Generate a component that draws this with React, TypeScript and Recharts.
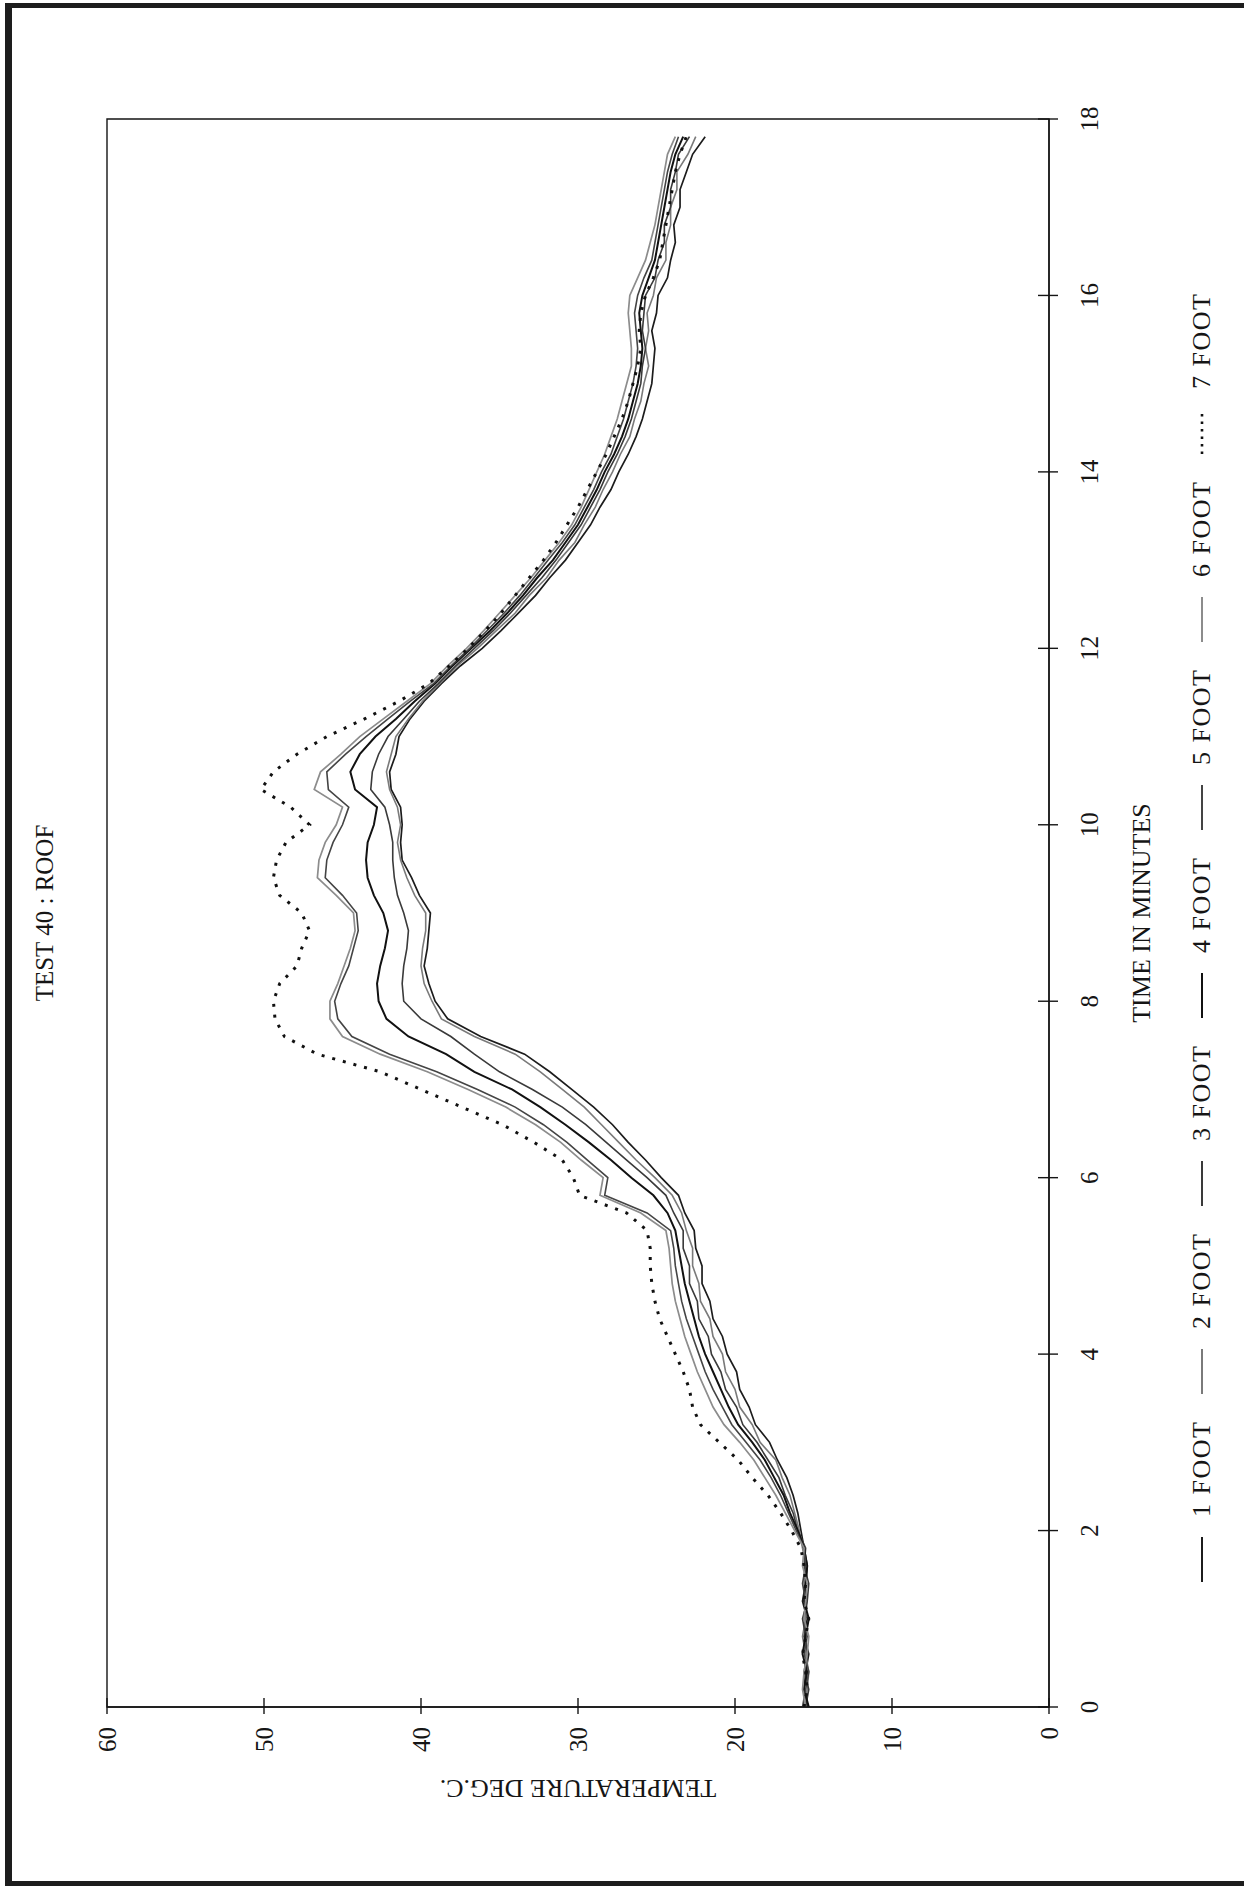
import { LineChart, Line, XAxis, YAxis, ReferenceArea, Legend } from "recharts";

// Readings taken off the scanned plot (minutes / deg C), every 0.2 min
const TIME = [
  0, 0.2, 0.4, 0.6, 0.8, 1, 1.2, 1.4, 1.6, 1.8,
  2, 2.2, 2.4, 2.6, 2.8, 3, 3.2, 3.4, 3.6, 3.8,
  4, 4.2, 4.4, 4.6, 4.8, 5, 5.2, 5.4, 5.6, 5.8,
  6, 6.2, 6.4, 6.6, 6.8, 7, 7.2, 7.4, 7.6, 7.8,
  8, 8.2, 8.4, 8.6, 8.8, 9, 9.2, 9.4, 9.6, 9.8,
  10, 10.2, 10.4, 10.6, 10.8, 11, 11.2, 11.4, 11.6, 11.8,
  12, 12.2, 12.4, 12.6, 12.8, 13, 13.2, 13.4, 13.6, 13.8,
  14, 14.2, 14.4, 14.6, 14.8, 15, 15.2, 15.4, 15.6, 15.8,
  16, 16.2, 16.4, 16.6, 16.8, 17, 17.2, 17.4, 17.6, 17.8,
];

const FOOT_1 = [
  15.4, 15.6, 15.5, 15.3, 15.6, 15.4, 15.7, 15.5, 15.4, 15.6,
  15.8, 16.0, 16.3, 16.7, 17.3, 17.8, 18.7, 19.1, 19.7, 19.9,
  20.5, 20.8, 21.4, 21.6, 22.1, 22.1, 22.5, 22.6, 23.2, 23.6,
  24.7, 25.7, 26.8, 27.8, 29.0, 30.4, 31.8, 33.4, 36.2, 38.3,
  39.1, 39.5, 39.8, 39.6, 39.5, 39.4, 40.1, 40.6, 41.2, 41.3,
  41.2, 41.3, 41.9, 42.0, 41.6, 41.4, 40.7, 39.8, 38.7, 37.5,
  36.1, 34.9, 33.8, 32.7, 31.8, 30.8, 30.0, 29.2, 28.6, 27.9,
  27.4, 26.8, 26.3, 25.9, 25.6, 25.3, 25.2, 25.1, 25.3, 25.0,
  24.9, 24.3, 24.1, 23.8, 23.9, 23.5, 23.5, 23.1, 22.7, 21.9,
];

const FOOT_2 = [
  15.6, 15.4, 15.3, 15.5, 15.7, 15.5, 15.4, 15.6, 15.5, 15.7,
  15.9, 16.2, 16.5, 17.0, 17.4, 18.4, 18.9, 19.7, 20.0, 20.6,
  20.8, 21.4, 21.6, 22.2, 22.3, 22.7, 22.7, 23.1, 23.4, 24.0,
  25.1, 26.3, 27.4, 28.5, 29.6, 31.0, 32.4, 34.0, 36.6, 38.7,
  39.3, 39.8, 40.0, 39.9, 39.7, 39.7, 40.4, 40.9, 41.3, 41.5,
  41.3, 41.5, 42.0, 42.2, 41.9, 41.6, 40.8, 39.9, 38.8, 37.7,
  36.4, 35.2, 34.0, 33.1, 32.0, 31.2, 30.2, 29.6, 28.9, 28.4,
  27.8, 27.3, 26.7, 26.4, 26.0, 25.8, 25.5, 25.7, 25.5, 25.6,
  25.2, 25.0, 24.4, 24.4, 24.1, 24.1, 23.7, 23.7, 23.0, 22.5,
];

const FOOT_3 = [
  15.5, 15.3, 15.6, 15.4, 15.5, 15.7, 15.4, 15.3, 15.6, 15.5,
  16.0, 16.3, 16.8, 17.2, 17.9, 18.6, 19.5, 19.9, 20.6, 20.9,
  21.5, 21.7, 22.3, 22.4, 22.9, 22.9, 23.3, 23.3, 23.9, 24.4,
  25.6, 26.9, 28.2, 29.5, 31.0, 32.9, 35.0, 36.6, 38.1, 40.0,
  41.1, 41.2, 41.1, 40.9, 40.8, 41.1, 41.5, 41.7, 41.8, 41.8,
  42.0, 42.3, 43.2, 43.1, 42.7, 42.1, 41.1, 40.1, 38.9, 37.8,
  36.6, 35.4, 34.3, 33.3, 32.3, 31.4, 30.6, 29.8, 29.2, 28.6,
  28.1, 27.5, 27.0, 26.6, 26.3, 26.0, 25.9, 25.7, 25.9, 25.8,
  25.7, 25.1, 24.9, 24.5, 24.5, 24.1, 24.1, 23.8, 23.6, 22.9,
];

const FOOT_4 = [
  15.3, 15.6, 15.4, 15.7, 15.5, 15.3, 15.6, 15.5, 15.4, 15.6,
  16.0, 16.5, 16.9, 17.5, 18.1, 18.9, 19.8, 20.4, 20.9, 21.4,
  21.9, 22.3, 22.6, 22.9, 23.2, 23.4, 23.6, 23.8, 24.3, 25.2,
  26.6, 27.9, 29.3, 30.8, 32.4, 34.2, 36.6, 38.4, 40.8, 42.2,
  42.7, 42.8, 42.6, 42.3, 42.1, 42.4, 43.0, 43.4, 43.5, 43.4,
  43.0, 42.8, 44.2, 44.5, 43.9, 42.9, 41.6, 40.4, 39.1, 38.0,
  36.8, 35.6, 34.5, 33.5, 32.6, 31.6, 30.8, 30.0, 29.4, 28.8,
  28.3, 27.7, 27.2, 26.8, 26.5, 26.2, 26.0, 25.9, 26.0, 26.1,
  25.9, 25.5, 25.1, 24.9, 24.7, 24.5, 24.3, 24.1, 23.8, 23.3,
];

const FOOT_5 = [
  15.7, 15.5, 15.3, 15.6, 15.4, 15.6, 15.5, 15.7, 15.5, 15.6,
  16.1, 16.6, 17.1, 17.7, 18.4, 19.3, 20.2, 20.8, 21.4, 21.9,
  22.3, 22.7, 23.1, 23.4, 23.6, 23.8, 23.9, 24.1, 25.6, 28.3,
  28.1, 29.4, 30.7, 32.2, 34.0, 36.4, 39.0, 42.0, 44.4, 45.3,
  45.5, 45.1, 44.6, 44.3, 44.0, 44.1, 45.0, 46.1, 46.0, 45.6,
  45.0, 44.6, 45.9, 46.0, 44.8, 43.5, 42.1, 40.7, 39.2, 38.1,
  36.9, 35.8, 34.7, 33.7, 32.8, 31.9, 31.0, 30.2, 29.6, 29.0,
  28.5, 27.9, 27.5, 27.1, 26.8, 26.5, 26.3, 26.2, 26.3, 26.4,
  26.2, 25.8, 25.3, 25.1, 24.9, 24.7, 24.5, 24.3, 24.0, 23.6,
];

const FOOT_6 = [
  15.5, 15.7, 15.6, 15.4, 15.3, 15.6, 15.5, 15.4, 15.7, 15.6,
  16.2, 16.8, 17.4, 18.1, 18.8, 19.7, 20.7, 21.4, 21.9, 22.4,
  22.8, 23.2, 23.5, 23.8, 24.0, 24.1, 24.2, 24.4, 26.0, 28.6,
  28.4, 29.8, 31.1, 32.7, 34.6, 37.0, 39.6, 42.6, 45.0, 45.8,
  45.8, 45.3, 44.9, 44.5, 44.2, 44.3, 45.4, 46.6, 46.5, 46.1,
  45.4, 45.0, 46.8, 46.4, 45.1, 43.9, 42.4, 40.9, 39.4, 38.3,
  37.1, 36.0, 35.0, 34.0, 33.0, 32.1, 31.2, 30.4, 29.8, 29.3,
  28.8, 28.3, 27.9, 27.5, 27.2, 26.9, 26.6, 26.6, 26.7, 26.8,
  26.7, 26.2, 25.7, 25.4, 25.1, 24.9, 24.7, 24.5, 24.3, 23.8,
];

const FOOT_7 = [
  15.6, 15.4, 15.5, 15.7, 15.5, 15.3, 15.6, 15.5, 15.6, 15.8,
  16.4, 17.1, 17.9, 18.9, 19.8, 21.0, 22.2, 22.7, 22.9, 23.3,
  23.8, 24.3, 24.8, 25.1, 25.3, 25.4, 25.4, 25.6, 26.9, 29.9,
  30.3, 31.0, 32.8, 34.8, 37.4, 40.0, 42.6, 46.6, 48.7, 49.3,
  49.4, 49.0, 47.9, 47.6, 47.1, 47.6, 49.0, 49.4, 49.2, 48.6,
  47.1, 48.3, 50.2, 49.4, 47.9, 46.0, 43.6, 41.4, 39.5, 38.2,
  37.0, 35.9, 34.9, 34.0, 33.1, 32.2, 31.4, 30.7, 30.0, 29.4,
  28.8, 28.2, 27.7, 27.2, 26.8, 26.5, 26.2, 26.0, 26.1, 26.0,
  25.7, 25.2, 24.8, 24.6, 24.4, 24.2, 24.0, 23.8, 23.5, 23.1,
];

const TIME_TICKS = [0, 2, 4, 6, 8, 10, 12, 14, 16, 18];
const TEMP_TICKS = [0, 10, 20, 30, 40, 50, 60];

const SERIES = [
  { key: "f1", name: "1 FOOT", values: FOOT_1, stroke: "#1c1c1c", width: 1.7, dash: undefined },
  { key: "f2", name: "2 FOOT", values: FOOT_2, stroke: "#7a7a7a", width: 1.6, dash: undefined },
  { key: "f3", name: "3 FOOT", values: FOOT_3, stroke: "#3a3a3a", width: 1.6, dash: undefined },
  { key: "f4", name: "4 FOOT", values: FOOT_4, stroke: "#111111", width: 2, dash: undefined },
  { key: "f5", name: "5 FOOT", values: FOOT_5, stroke: "#444444", width: 1.6, dash: undefined },
  { key: "f6", name: "6 FOOT", values: FOOT_6, stroke: "#8c8c8c", width: 1.7, dash: undefined },
  { key: "f7", name: "7 FOOT", values: FOOT_7, stroke: "#111111", width: 3, dash: "3 8" },
];

const FONT = '"Liberation Serif", "DejaVu Serif", serif';
const INK = "#151515";

const data = TIME.map((t, i) => {
  const row: Record<string, number> = { t };
  SERIES.forEach((s) => {
    row[s.key] = s.values[i];
  });
  return row;
});

// Excel style "cross" tick marks + label
function TimeTick(props: any) {
  const { x, y, payload } = props;
  return (
    <g>
      <line x1={x} x2={x} y1={y - 11} y2={y + 9} stroke={INK} strokeWidth={1.4} />
      <text x={x} y={y + 49} textAnchor="middle" fontSize={25} fontFamily={FONT} fill={INK}>
        {payload.value}
      </text>
    </g>
  );
}

function TempTick(props: any) {
  const { x, y, payload } = props;
  return (
    <g>
      <line x1={x - 7} x2={x + 9} y1={y} y2={y} stroke={INK} strokeWidth={1.4} />
      <text x={x - 20} y={y} dy="0.35em" textAnchor="end" fontSize={25} fontFamily={FONT} fill={INK}>
        {payload.value}
      </text>
    </g>
  );
}

function LegendRow() {
  return (
    <div
      style={{
        display: "flex",
        alignItems: "center",
        height: 34,
        paddingLeft: 306,
        fontFamily: FONT,
        fontSize: 26,
        color: INK,
      }}
    >
      {SERIES.map((s) => (
        <div key={s.key} style={{ width: 188, display: "flex", alignItems: "center", flex: "none" }}>
          <svg width={45} height={10} style={{ marginRight: 20, flex: "none" }}>
            <line
              x1={0}
              x2={45}
              y1={5}
              y2={5}
              stroke={s.stroke}
              strokeWidth={s.dash ? 2.6 : 2}
              strokeDasharray={s.dash ? "2.5 5" : undefined}
            />
          </svg>
          <span style={{ letterSpacing: 1.5, whiteSpace: "nowrap" }}>{s.name}</span>
        </div>
      ))}
    </div>
  );
}

export default function App() {
  return (
    <div
      style={{
        position: "absolute",
        left: 0,
        top: 0,
        width: 1244,
        height: 1888,
        overflow: "hidden",
        background: "#fff",
      }}
    >
      {/* page frame of the scan */}
      <div
        style={{
          position: "absolute",
          left: 5,
          top: 3,
          width: 1239,
          height: 1883,
          boxSizing: "border-box",
          borderLeft: "7px solid #1d1d1d",
          borderTop: "5px solid #1d1d1d",
          borderBottom: "5px solid #1d1d1d",
        }}
      />
      {/* landscape chart turned a quarter turn counter-clockwise */}
      <div
        style={{
          position: "absolute",
          left: 0,
          top: 0,
          width: 1888,
          height: 1244,
          transformOrigin: "0 0",
          transform: "translateY(1888px) rotate(-90deg)",
        }}
      >
        <div
          style={{
            position: "absolute",
            left: 775,
            top: 31,
            width: 400,
            textAlign: "center",
            fontFamily: FONT,
            fontSize: 25,
            color: INK,
            zIndex: 2,
          }}
        >
          TEST 40 : ROOF
        </div>
        <LineChart
          width={1888}
          height={1244}
          data={data}
          margin={{ top: 107, right: 119, bottom: 11, left: 17 }}
          style={{ fontFamily: FONT }}
        >
          <XAxis
            dataKey="t"
            type="number"
            domain={[0, 18]}
            ticks={TIME_TICKS}
            interval={0}
            tick={(p: any) => <TimeTick {...p} />}
            tickLine={false}
            tickSize={0}
            tickMargin={0}
            height={184}
            axisLine={{ stroke: INK, strokeWidth: 1.4 }}
            label={{ value: "TIME IN MINUTES", position: "center", fontSize: 26, fontFamily: FONT, fill: INK }}
          />
          <YAxis
            type="number"
            domain={[0, 60]}
            ticks={TEMP_TICKS}
            interval={0}
            tick={(p: any) => <TempTick {...p} />}
            tickLine={false}
            tickSize={0}
            tickMargin={0}
            width={164}
            axisLine={{ stroke: INK, strokeWidth: 1.4 }}
            label={{
              value: "TEMPERATURE DEG.C.",
              angle: -90,
              position: "center",
              fontSize: 26,
              fontFamily: FONT,
              fill: INK,
            }}
          />
          <ReferenceArea x1={0} x2={18} y1={0} y2={60} fill="none" stroke={INK} strokeWidth={1.4} />
          {SERIES.map((s) => (
            <Line
              key={s.key}
              dataKey={s.key}
              name={s.name}
              type="linear"
              stroke={s.stroke}
              strokeWidth={s.width}
              strokeDasharray={s.dash}
              dot={false}
              activeDot={false}
              isAnimationActive={false}
            />
          ))}
          <Legend
            layout="horizontal"
            verticalAlign="middle"
            align="center"
            wrapperStyle={{ position: "absolute", left: 0, top: 1185, width: 1888, height: 34 }}
            content={() => <LegendRow />}
          />
        </LineChart>
      </div>
    </div>
  );
}
